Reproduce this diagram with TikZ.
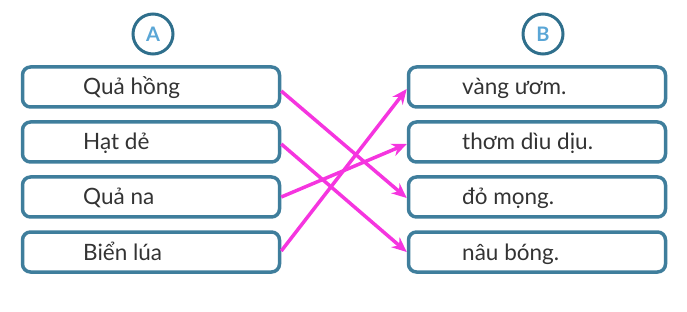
\documentclass[tikz,border=0pt]{standalone}
\usepackage{fontspec}
\setmainfont{Lato}
\usetikzlibrary{arrows.meta}
\definecolor{boxc}{HTML}{3F7E9C}
\definecolor{circc}{HTML}{2F6F8C}
\definecolor{letc}{HTML}{5AA6D6}
\definecolor{txtc}{HTML}{333333}
\definecolor{arrc}{HTML}{F535DF}
\tikzset{
  itembox/.style={draw=boxc, line width=3.5pt, rounded corners=8pt, minimum width=257pt, minimum height=40pt, inner sep=0pt},
  itemtext/.style={anchor=base west, text=txtc, font=\fontsize{22.5}{26}\selectfont, inner sep=0pt},
  headc/.style={circle, draw=circc, line width=3pt, minimum size=40pt, inner sep=0pt, text=letc, font=\bfseries\fontsize{20}{24}\selectfont},
  link/.style={draw=arrc, line width=3.5pt, -{Stealth[length=15pt,width=13pt]}}
}
\begin{document}
\begin{tikzpicture}[x=1pt,y=-1pt]
\useasboundingbox (0,0) rectangle (687,312);
\node[headc] (hA) at (153,34) {A};
\node[headc] (hB) at (543,34) {B};
\node[itembox] (a1) at (151,87) {};
\node[itembox] (a2) at (151,142) {};
\node[itembox] (a3) at (151,197) {};
\node[itembox] (a4) at (151,252) {};
\node[itembox] (b1) at (537,87) {};
\node[itembox] (b2) at (537,142) {};
\node[itembox] (b3) at (537,197) {};
\node[itembox] (b4) at (537,252) {};
\node[itemtext] (ta1) at (83,95) {Quả hồng};
\node[itemtext] (ta2) at (83,150) {Hạt dẻ};
\node[itemtext] (ta3) at (83,205) {Quả na};
\node[itemtext] (ta4) at (83,260) {Biển lúa};
\node[itemtext] (tb1) at (462,95) {vàng ươm.};
\node[itemtext] (tb2) at (462,150) {thơm dìu dịu.};
\node[itemtext] (tb3) at (462,205) {đỏ mọng.};
\node[itemtext] (tb4) at (462,260) {nâu bóng.};
\draw[link] ([yshift=-4pt]a1.east) -- ([yshift=-1pt]b3.west);
\draw[link] ([yshift=-2pt]a2.east) -- (b4.west);
\draw[link] (a3.east) -- ([yshift=-2pt]b2.west);
\draw[link] ([yshift=1pt]a4.east) -- ([yshift=-2pt]b1.west);
\end{tikzpicture}
\end{document}
